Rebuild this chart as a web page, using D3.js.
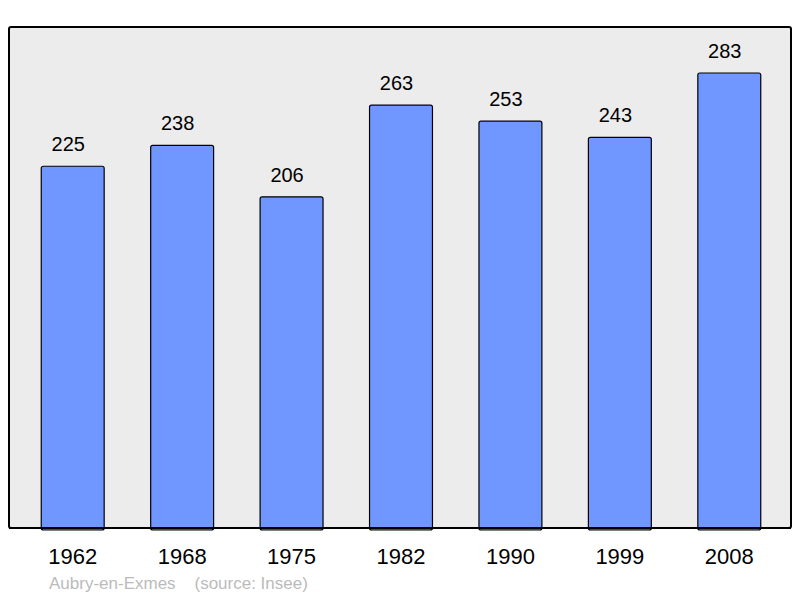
<!DOCTYPE html>
<html>
<head>
<meta charset="utf-8">
<script src="https://cdn.jsdelivr.net/npm/d3@7"></script>
<style>
  body { margin: 0; background: #fff; }
  text { font-family: "Liberation Sans", Arial, sans-serif; }
</style>
</head>
<body>
<svg id="chart" width="800" height="598"></svg>
<script>
// population by census year
const years = ['1962', '1968', '1975', '1982', '1990', '1999', '2008'];
const population = [225, 238, 206, 263, 253, 243, 283];
const footer = 'Aubry-en-Exmes    (source: Insee)';

const svg = d3.select('#chart');
const frame = { left: 9, top: 27, right: 791, bottom: 528 };

// plot background
svg.append('rect')
  .attr('x', frame.left)
  .attr('y', frame.top)
  .attr('width', frame.right - frame.left)
  .attr('height', frame.bottom - frame.top)
  .attr('rx', 2)
  .attr('fill', '#ececec')
  .attr('stroke', '#000')
  .attr('stroke-width', 2);

const xScale = d3.scaleBand()
  .domain(years)
  .range([18, 784])
  .paddingInner(0.425)
  .paddingOuter(0.2125);

const yScale = d3.scaleLinear()
  .domain([0, 311.6])
  .range([frame.bottom, frame.top]);

const data = years.map((y, i) => ({ year: y, value: population[i] }));

// bars
svg.selectAll('rect.bar')
  .data(data)
  .enter()
  .append('rect')
  .attr('class', 'bar')
  .attr('x', d => xScale(d.year))
  .attr('y', d => yScale(d.value))
  .attr('width', xScale.bandwidth())
  .attr('height', d => frame.bottom - yScale(d.value) + 2)
  .attr('rx', 2)
  .attr('fill', '#7097ff')
  .attr('stroke', '#000')
  .attr('stroke-width', 1.2);

// redraw bottom frame edge over bars
svg.append('line')
  .attr('x1', frame.left)
  .attr('x2', frame.right)
  .attr('y1', frame.bottom)
  .attr('y2', frame.bottom)
  .attr('stroke', '#000')
  .attr('stroke-width', 2);

// value labels (sit a little left of bar centre, as in the original)
svg.selectAll('text.value')
  .data(data)
  .enter()
  .append('text')
  .attr('class', 'value')
  .attr('x', d => xScale(d.year) + xScale.bandwidth() / 2 - 4.5)
  .attr('y', d => yScale(d.value) - 15)
  .attr('text-anchor', 'middle')
  .attr('font-size', 20)
  .attr('fill', '#000')
  .text(d => d.value);

// year axis
const xAxis = svg.append('g')
  .attr('transform', `translate(0,${frame.bottom})`)
  .call(d3.axisBottom(xScale).tickSize(0).tickPadding(18));
xAxis.select('.domain').remove();
xAxis.selectAll('.tick text')
  .attr('font-size', 22)
  .attr('font-family', '"Liberation Sans", Arial, sans-serif')
  .attr('fill', '#000')
  .attr('dy', 0)
  .attr('y', 36);

// footer
svg.append('text')
  .attr('x', 49)
  .attr('y', 589)
  .attr('font-size', 17)
  .attr('fill', '#bbbbbb')
  .attr('xml:space', 'preserve')
  .style('white-space', 'pre')
  .text(footer);
</script>
</body>
</html>
